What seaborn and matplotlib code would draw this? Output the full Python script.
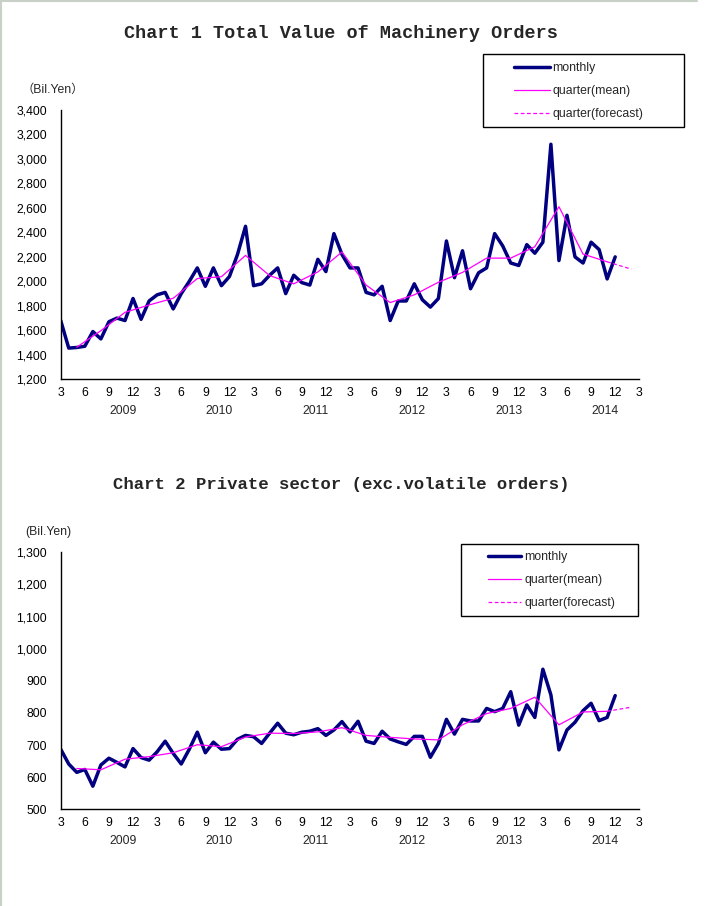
import numpy as np
import seaborn as sns
import matplotlib.pyplot as plt
from matplotlib.lines import Line2D
from matplotlib.patches import Rectangle
from matplotlib.ticker import FuncFormatter

# positions on the month axis: 0 = Mar 2009 ... 72 = Mar 2015
month_pos = np.arange(70)                 # monthly data Mar 2009 .. Dec 2014
quarter_pos = np.arange(2, 69, 3)         # quarter means plotted at mid-quarter month
forecast_pos = [68, 71]                   # Oct-Dec 2014 -> Jan-Mar 2015 forecast
tick_labels = ["3", "6", "9", "12"]
years = [2009, 2010, 2011, 2012, 2013, 2014]

# Chart 1: total value of machinery orders (bil. yen)
total_monthly = [1680, 1455, 1460, 1470, 1590, 1530, 1670, 1700, 1680, 1860,
                 1690, 1840, 1890, 1910, 1775, 1900, 2000, 2110, 1960, 2110,
                 1965, 2040, 2220, 2450, 1965, 1980, 2050, 2110, 1900, 2050,
                 1990, 1970, 2180, 2080, 2390, 2220, 2110, 2110, 1910, 1890,
                 1960, 1680, 1840, 1840, 1980, 1850, 1790, 1860, 2330, 2030,
                 2250, 1940, 2070, 2110, 2390, 2290, 2150, 2130, 2300, 2230,
                 2320, 3120, 2170, 2540, 2200, 2150, 2320, 2260, 2020, 2200]
total_quarter = [1462, 1597, 1747, 1807, 1862, 2023, 2038, 2212, 2047, 1980,
                 2077, 2240, 1970, 1827, 1890, 1993, 2073, 2190, 2190, 2283,
                 2610, 2223, 2160]
total_forecast = [2160, 2100]

# Chart 2: private sector excluding volatile orders (bil. yen)
private_monthly = [687, 641, 615, 624, 572, 638, 659, 646, 632, 689,
                   661, 653, 679, 712, 674, 641, 687, 740, 676, 709,
                   687, 689, 718, 730, 726, 705, 737, 768, 737, 732,
                   740, 743, 751, 730, 747, 773, 741, 774, 712, 705,
                   743, 719, 710, 702, 727, 727, 662, 705, 780, 734,
                   780, 775, 775, 814, 804, 814, 866, 762, 825, 786,
                   936, 856, 685, 747, 771, 807, 830, 776, 786, 854]
private_quarter = [627, 623, 656, 664, 676, 701, 695, 725, 737, 736,
                   741, 754, 730, 724, 719, 716, 763, 798, 814, 849,
                   763, 803, 805]
private_forecast = [805, 818]

sns.set_style("white")
plt.rcParams['font.family'] = ['Liberation Sans', 'DejaVu Sans']

W, H = 713, 906
fig = plt.figure(figsize=(W / 100, H / 100), dpi=100)


def fx(px):
    return px / W


def fy(py):
    return 1 - py / H


NAVY = '#000080'
MAGENTA = '#ff00ff'


def draw_panel(ax, monthly, quarter, forecast, ylim, ystep, leg_x, leg_y, hlen, box):
    sns.lineplot(x=month_pos, y=monthly, ax=ax, color=NAVY, linewidth=2.5,
                 label='monthly')
    sns.lineplot(x=quarter_pos, y=quarter, ax=ax, color=MAGENTA, linewidth=0.9,
                 label='quarter(mean)')
    sns.lineplot(x=forecast_pos, y=forecast, ax=ax, color=MAGENTA, linewidth=0.9,
                 linestyle=(0, (3, 2)), label='quarter(forecast)')

    ax.set_xlim(0, 72)
    ax.set_ylim(*ylim)
    ax.set_xticks(np.arange(0, 73, 3))
    ax.set_xticklabels([tick_labels[i % 4] for i in range(25)])
    ax.set_yticks(np.arange(ylim[0], ylim[1] + 1, ystep))
    ax.yaxis.set_major_formatter(FuncFormatter(lambda v, p: f"{v:,.0f}"))
    ax.tick_params(axis='both', direction='in', length=4, width=1,
                   labelsize=8.8, colors='black')
    ax.tick_params(axis='y', pad=9.8)
    ax.tick_params(axis='x', pad=5.5)
    for s in ['top', 'right']:
        ax.spines[s].set_visible(False)
    for s in ['left', 'bottom']:
        ax.spines[s].set_color('black')
        ax.spines[s].set_linewidth(1)
    ax.set_xlabel('')
    ax.set_ylabel('')

    # year labels under the month ticks
    for k, yr in enumerate(years):
        ax.annotate(str(yr), xy=(7.75 + 12 * k, 0), xycoords=('data', 'axes fraction'),
                    xytext=(0, -23), textcoords='offset points',
                    ha='center', va='center', fontsize=8.8)

    ax.legend(loc='center left', bbox_to_anchor=(fx(leg_x), fy(leg_y)),
              bbox_transform=fig.transFigure, frameon=False, fontsize=8.8,
              borderpad=0, handlelength=hlen, handletextpad=0.25,
              labelspacing=0.9)
    x0, y0, x1, y1 = box
    fig.add_artist(Rectangle((fx(x0), fy(y1)), fx(x1 - x0), (y1 - y0) / H,
                             transform=fig.transFigure, fill=False,
                             edgecolor='black', linewidth=1))


ax1 = fig.add_axes([fx(60.7), fy(379.3), fx(639.3 - 60.7), (379.3 - 110) / H])
draw_panel(ax1, total_monthly, total_quarter, total_forecast, (1200, 3400), 200,
           508, 91, 2.9, (483, 54, 684, 127))

ax2 = fig.add_axes([fx(60.7), fy(809.3), fx(639.3 - 60.7), (809.3 - 552.3) / H])
draw_panel(ax2, private_monthly, private_quarter, private_forecast, (500, 1300), 100,
           482, 580, 2.7, (461, 544, 638, 616))

# titles
fig.text(fx(341), fy(33), "Chart 1 Total Value of Machinery Orders",
         family='Liberation Mono', weight='bold', fontsize=13.3,
         ha='center', va='center')
fig.text(fx(341.5), fy(485), "Chart 2 Private sector (exc.volatile orders)",
         family='Liberation Mono', weight='bold', fontsize=12.4,
         ha='center', va='center')

# unit labels
fig.text(fx(22), fy(90), "（Bil.Yen）", family=['Liberation Sans', 'Noto Sans CJK JP'],
         fontsize=8.8, ha='left', va='center')
fig.text(fx(25), fy(532), "(Bil.Yen)", fontsize=8.8, ha='left', va='center')

# sheet border lines (left and top)
fig.add_artist(Line2D([fx(1), fx(1)], [0, 1], transform=fig.transFigure,
                      color='#c8d0c8', linewidth=1.5))
fig.add_artist(Line2D([0, fx(697)], [fy(1), fy(1)], transform=fig.transFigure,
                      color='#c8d0c8', linewidth=1.5))

fig.savefig('out.png', dpi=100, facecolor='white')
